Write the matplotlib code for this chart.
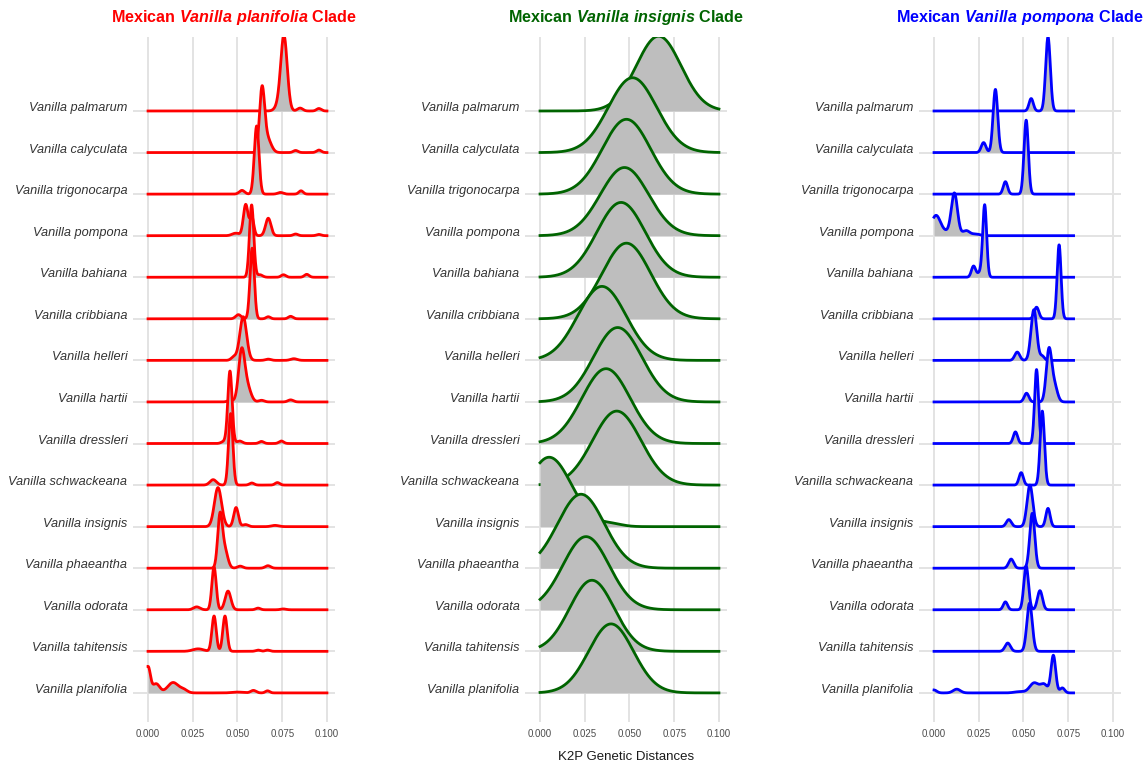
import numpy as np
import matplotlib.pyplot as plt

plt.rcParams['font.family'] = 'Liberation Sans'
plt.rcParams['mathtext.fontset'] = 'custom'
plt.rcParams['mathtext.bf'] = 'Liberation Sans:italic:bold'

species = ["Vanilla palmarum", "Vanilla calyculata", "Vanilla trigonocarpa",
           "Vanilla pompona", "Vanilla bahiana", "Vanilla cribbiana",
           "Vanilla helleri", "Vanilla hartii", "Vanilla dressleri",
           "Vanilla schwackeana", "Vanilla insignis", "Vanilla phaeantha",
           "Vanilla odorata", "Vanilla tahitensis", "Vanilla planifolia"]

ticks = [0.0, 0.025, 0.05, 0.075, 0.1]
tick_labels = ["0.000", "0.025", "0.050", "0.075", "0.100"]

# density peaks: (distance, height in rows, spread)
planifolia_clade = [
    [(0.0760, 1.78, 0.0018), (0.073, 0.12, 0.002), (0.0850, 0.07, 0.0015), (0.0955, 0.06, 0.0013)],
    [(0.0637, 1.45, 0.0014), (0.0665, 0.35, 0.0022), (0.0825, 0.05, 0.0013), (0.0955, 0.06, 0.0013)],
    [(0.0607, 1.64, 0.0013), (0.0525, 0.09, 0.0015), (0.0740, 0.04, 0.0015), (0.0855, 0.08, 0.0012)],
    [(0.0546, 0.75, 0.0013), (0.0580, 0.45, 0.0011), (0.0672, 0.42, 0.0015), (0.049, 0.06, 0.002),
     (0.0825, 0.04, 0.0013), (0.0955, 0.03, 0.0013)],
    [(0.0579, 1.74, 0.0012), (0.0625, 0.06, 0.0015), (0.0757, 0.06, 0.0013), (0.0887, 0.07, 0.0013)],
    [(0.0582, 1.70, 0.0012), (0.0505, 0.10, 0.0015), (0.0672, 0.05, 0.0012), (0.0797, 0.06, 0.0013)],
    [(0.0532, 1.05, 0.0019), (0.0480, 0.08, 0.0015), (0.0672, 0.03, 0.0015), (0.0815, 0.04, 0.0018)],
    [(0.0523, 1.20, 0.0017), (0.0555, 0.35, 0.0020), (0.0460, 0.04, 0.0015), (0.0634, 0.04, 0.0015),
     (0.0797, 0.05, 0.0015)],
    [(0.0458, 1.74, 0.0012), (0.0425, 0.05, 0.0015), (0.0512, 0.06, 0.0015), (0.0634, 0.05, 0.0013),
     (0.0745, 0.06, 0.0013)],
    [(0.0462, 1.72, 0.0012), (0.0364, 0.13, 0.0018), (0.0580, 0.05, 0.0013), (0.0723, 0.06, 0.0013)],
    [(0.0391, 0.94, 0.0020), (0.0492, 0.46, 0.0013), (0.0545, 0.05, 0.0015), (0.0710, 0.03, 0.0020)],
    [(0.0402, 1.20, 0.0013), (0.0428, 0.45, 0.0017), (0.0515, 0.05, 0.0015), (0.0670, 0.06, 0.0015)],
    [(0.0369, 1.03, 0.0012), (0.0447, 0.45, 0.0016), (0.0272, 0.07, 0.0018), (0.0615, 0.04, 0.0013),
     (0.0756, 0.02, 0.0015)],
    [(0.0369, 0.85, 0.0012), (0.0430, 0.85, 0.0012), (0.0280, 0.06, 0.0030), (0.0615, 0.03, 0.0013),
     (0.0668, 0.03, 0.0013)],
    [(0.0, 0.62, 0.0013), (0.0045, 0.22, 0.0020), (0.0140, 0.25, 0.0030), (0.0200, 0.07, 0.0020),
     (0.0500, 0.02, 0.0030), (0.0589, 0.06, 0.0015), (0.0668, 0.05, 0.0012)],
]

insignis_clade = [
    [(0.0663, 1.80, 0.0125)],
    [(0.0517, 1.80, 0.0135)],
    [(0.0483, 1.80, 0.0135)],
    [(0.0472, 1.64, 0.0135)],
    [(0.0453, 1.80, 0.0135)],
    [(0.0483, 1.82, 0.0135)],
    [(0.0346, 1.78, 0.0135)],
    [(0.0434, 1.79, 0.0135)],
    [(0.0369, 1.80, 0.0135)],
    [(0.0429, 1.78, 0.0135)],
    [(0.0051, 1.67, 0.0125), (0.0400, 0.06, 0.0060)],
    [(0.0229, 1.78, 0.0130)],
    [(0.0257, 1.76, 0.0130)],
    [(0.0290, 1.71, 0.0125)],
    [(0.0397, 1.66, 0.0125)],
]

pompona_clade = [
    [(0.0637, 1.78, 0.0013), (0.0543, 0.30, 0.0012)],
    [(0.0343, 1.52, 0.0013), (0.0277, 0.24, 0.0013)],
    [(0.0515, 1.78, 0.0012), (0.0399, 0.30, 0.0012)],
    [(0.0010, 0.46, 0.0025), (0.0070, 0.09, 0.0040), (0.0114, 0.98, 0.0017), (0.0180, 0.12, 0.0020),
     (0.0235, 0.04, 0.0020)],
    [(0.0283, 1.74, 0.0011), (0.0221, 0.27, 0.0012), (0.0255, 0.10, 0.0012)],
    [(0.0699, 1.78, 0.0011), (0.0573, 0.28, 0.0013)],
    [(0.0558, 1.22, 0.0016), (0.0465, 0.20, 0.0014), (0.0605, 0.10, 0.0012)],
    [(0.0642, 1.22, 0.0015), (0.0672, 0.40, 0.0017), (0.0517, 0.21, 0.0013)],
    [(0.0573, 1.78, 0.0011), (0.0455, 0.28, 0.0012)],
    [(0.0605, 1.78, 0.0012), (0.0487, 0.30, 0.0012)],
    [(0.0536, 1.00, 0.0016), (0.0637, 0.44, 0.0012), (0.0418, 0.17, 0.0014)],
    [(0.0549, 1.32, 0.0014), (0.0431, 0.22, 0.0014)],
    [(0.0515, 1.05, 0.0013), (0.0592, 0.46, 0.0014), (0.0399, 0.19, 0.0012)],
    [(0.0534, 1.16, 0.0015), (0.0412, 0.20, 0.0015)],
    [(0.0, 0.07, 0.0015), (0.0127, 0.09, 0.0020), (0.0480, 0.03, 0.0030), (0.0560, 0.24, 0.0025),
     (0.0615, 0.20, 0.0020), (0.0667, 0.90, 0.0013), (0.0717, 0.12, 0.0013)],
]

panels = [
    ("Vanilla\\ planifolia", "#ff0000", planifolia_clade, 0.1, 133),
    ("Vanilla\\ insignis", "#006400", insignis_clade, 0.1, 525),
    ("Vanilla\\ pompona", "#0000ff", pompona_clade, 0.078, 919),
]

fig = plt.figure(figsize=(11.47, 7.65), dpi=100)
n = len(species)

for k, (clade, col, ridges, xmax, left) in enumerate(panels):
    ax = fig.add_axes([left / 1147, 43 / 765, 202 / 1147, 685 / 765])
    x = np.linspace(0, xmax, 800)
    for i, peaks in enumerate(ridges):
        base = n - 1 - i
        dens = sum(h * np.exp(-0.5 * ((x - c) / s) ** 2) for c, h, s in peaks)
        ax.fill_between(x, base, base + dens, color='#bebebe', lw=0, zorder=2 + 2 * i)
        ax.plot(x, base + dens, color=col, lw=2.0, zorder=3 + 2 * i)

    ax.set_xlim(-0.0084, 0.1045)
    ax.set_ylim(-0.70, 15.78)
    ax.set_xticks(ticks)
    ax.set_xticklabels(tick_labels, fontsize=7, color='#4d4d4d')
    ax.set_yticks(range(n))
    ax.set_yticklabels(species[::-1], fontsize=9.2, style='italic', color='#333333')
    for lab in ax.get_yticklabels():
        lab.set_verticalalignment('baseline')
    ax.tick_params(length=0)
    ax.tick_params(axis='x', pad=5)
    ax.tick_params(axis='y', pad=4)
    ax.grid(color='#e3e3e3', lw=1.4)
    ax.set_axisbelow(True)
    for sp in ax.spines.values():
        sp.set_visible(False)
    ax.set_title("Mexican $\\mathbf{" + clade + "}$ Clade", color=col,
                 fontsize=11.6, fontweight='bold', pad=10.5)
    if k == 1:
        ax.set_xlabel("K2P Genetic Distances", fontsize=9.5, color='#1a1a1a', labelpad=9)

fig.savefig("out.png", dpi=100)
